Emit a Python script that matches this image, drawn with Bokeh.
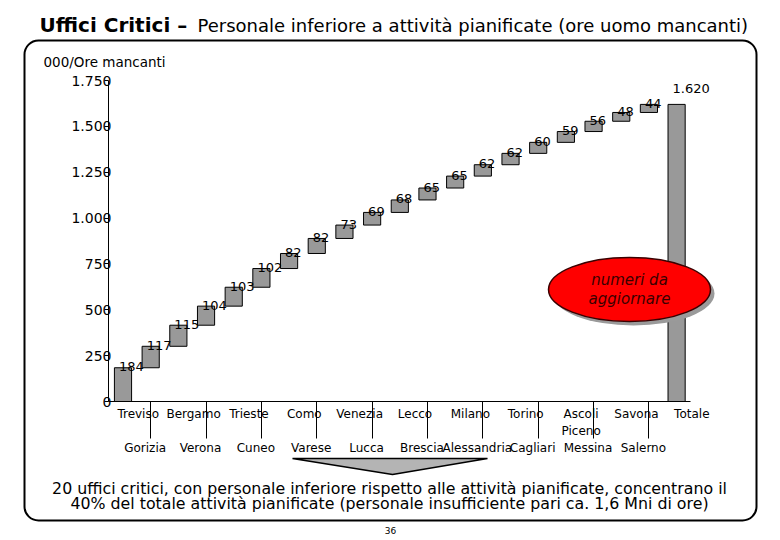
import numpy as np
from bokeh.plotting import figure
from bokeh.models import (Range1d, FixedTicker, Label, BoxAnnotation,
                          PolyAnnotation, ColumnDataSource)
from bokeh.core.properties import value
from bokeh.embed import file_html
from bokeh.resources import INLINE

# ---------------- data ----------------
offices = ["Treviso", "Gorizia", "Bergamo", "Verona", "Trieste", "Cuneo",
           "Como", "Varese", "Venezia", "Lucca", "Lecco", "Brescia",
           "Milano", "Alessandria", "Torino", "Cagliari", "Ascoli Piceno",
           "Messina", "Savona", "Salerno"]
hours = [184, 117, 115, 104, 103, 102, 82, 82, 73, 69, 68, 65, 65, 62, 62,
         60, 59, 56, 48, 44]
total_name = "Totale"
y_ticks = [0, 250, 500, 750, 1000, 1250, 1500, 1750]

title_bold = "Uffici Critici –"
title_rest = "Personale inferiore a attività pianificate (ore uomo mancanti)"
unit_text = "000/Ore mancanti"
callout_text = "numeri da\naggiornare"
footer_1 = ("20 uffici critici, con personale inferiore rispetto alle attività "
            "pianificate, concentrano il")
footer_2 = ("40% del totale attività pianificate (personale insufficiente pari "
            "ca. 1,6 Mni di ore)")
page_no = "36"


def fmt(v):
    return f"{int(v):,}".replace(",", ".")


FONT = "DejaVu Sans"
W, H = 780, 540
# geometry of the plotting area (pixels)
X0_PX, PX_X = 122.5, 27.68      # centre of first bar, pixels per category
Y0_PX, PX_Y = 401.0, 0.1834     # baseline, pixels per unit
AXIS_LEFT_PX, AXIS_RIGHT_PX = 108, 690

ends = np.cumsum(hours)
starts = ends - np.array(hours)
total = int(ends[-1])
xs = list(range(len(hours)))
x_total = len(hours)

x_start = -X0_PX / PX_X
x_end = (W - X0_PX) / PX_X
y_start = -(H - Y0_PX) / PX_Y
y_end = Y0_PX / PX_Y
x_axis_left = (AXIS_LEFT_PX - X0_PX) / PX_X
x_axis_right = (AXIS_RIGHT_PX - X0_PX) / PX_X

# ---------------- figure ----------------
p = figure(width=W, height=H, output_backend="svg", toolbar_location=None,
           x_range=Range1d(x_start, x_end), y_range=Range1d(y_start, y_end),
           min_border=0, title=None)
p.xgrid.visible = False
p.ygrid.visible = False
p.outline_line_color = None
p.background_fill_color = "white"
p.border_fill_color = "white"

# x axis: two rows of labels, leader lines (minor ticks) for odd ones
names = offices + [total_name]
major_pos, overrides = [], {}
for i, n in enumerate(names):
    n2 = n.replace(" ", "\n")
    if i % 2 == 0:
        pos = i + 0.55
        overrides[pos] = n2
    else:
        pos = i - 0.2
        overrides[pos] = "\n\n" + n2
    major_pos.append(pos)
odd_pos = [i for i in range(len(names)) if i % 2 == 1]

xa = p.xaxis[0]
xa.fixed_location = 0
xa.ticker = FixedTicker(ticks=major_pos, minor_ticks=odd_pos)
xa.major_label_overrides = overrides
xa.major_tick_out = 0
xa.major_tick_in = 0
xa.minor_tick_out = 37
xa.minor_tick_in = 0
xa.minor_tick_line_color = "black"
xa.axis_line_color = "black"
xa.major_label_standoff = -32
xa.major_label_text_font = FONT
xa.major_label_text_font_size = "12px"
xa.major_label_text_color = "black"
xa.major_label_text_line_height = 1.22
xa.bounds = (x_axis_left, x_axis_right)

ya = p.yaxis[0]
ya.fixed_location = x_axis_left
ya.ticker = FixedTicker(ticks=y_ticks)
ya.major_label_overrides = {v: fmt(v) for v in y_ticks}
ya.major_tick_out = 4
ya.major_tick_in = 0
ya.minor_tick_out = 0
ya.minor_tick_in = 0
ya.major_label_standoff = -7
ya.major_label_text_font = FONT
ya.major_label_text_font_size = "14px"
ya.major_label_text_color = "black"
ya.axis_line_color = "black"
ya.bounds = (0, y_ticks[-1])

# ---------------- bars ----------------
src = ColumnDataSource(dict(x=xs, bottom=starts, top=ends,
                            label=[str(v) for v in hours]))
p.vbar(x="x", bottom="bottom", top="top", width=0.62, source=src,
       fill_color="#999999", line_color="black", line_width=1)
p.vbar(x=[x_total], bottom=[0], top=[total], width=0.62,
       fill_color="#999999", line_color="black", line_width=1)

p.text(x="x", y="top", text="label", source=src, x_offset=-4, y_offset=-1,
       text_align="left", text_baseline="alphabetic",
       text_font=value(FONT), text_font_size="13px", text_color="black")
p.text(x=[x_total], y=[total], text=[fmt(total)], x_offset=-4, y_offset=-16,
       text_align="left", text_baseline="alphabetic",
       text_font=value(FONT), text_font_size="13px", text_color="black")

# ---------------- callout ellipse ----------------
ex, ey = (629 - X0_PX) / PX_X, (Y0_PX - 289) / PX_Y
p.ellipse(x=[ex + 4 / PX_X], y=[ey - 4 / PX_Y], width=162, height=64,
          width_units="screen", height_units="screen",
          fill_color="#9a9a9a", line_color=None)
p.ellipse(x=[ex], y=[ey], width=162, height=64,
          width_units="screen", height_units="screen",
          fill_color="#ff0000", line_color="#3a0000", line_width=1.5)
p.text(x=[ex], y=[ey], text=[callout_text], text_align="center",
       text_baseline="middle", text_font=value(FONT),
       text_font_style="italic", text_font_size="15px",
       text_color="#3a0000", text_line_height=1.05)

# ---------------- page decorations ----------------
p.add_layout(BoxAnnotation(left=24, right=756, top=40, bottom=520,
                           left_units="canvas", right_units="canvas",
                           top_units="canvas", bottom_units="canvas",
                           fill_color=None, line_color="black",
                           line_alpha=1, line_width=2, border_radius=14))
p.add_layout(PolyAnnotation(xs=[292, 487, 392], ys=[458, 458, 474],
                            xs_units="canvas", ys_units="canvas",
                            fill_color="#b4b4b4", fill_alpha=1,
                            line_color="black", line_alpha=1,
                            line_width=1.5))


def lab(x, y, text, size, align="left", baseline="middle", style="normal"):
    p.add_layout(Label(x=x, y=y, x_units="canvas", y_units="canvas",
                       text=text, text_font=FONT, text_font_style=style,
                       text_font_size=size, text_align=align,
                       text_baseline=baseline, text_color="black"))


lab(39, 24, title_bold, "20px", style="bold")
lab(197, 25, title_rest, "18px")
lab(43, 61, unit_text, "13.5px")
lab(389, 488, footer_1, "15.8px", align="center")
lab(389, 503, footer_2, "15.8px", align="center")
lab(390, 530, page_no, "9px", align="center")

open("out.html", "w").write(file_html(p, INLINE))
